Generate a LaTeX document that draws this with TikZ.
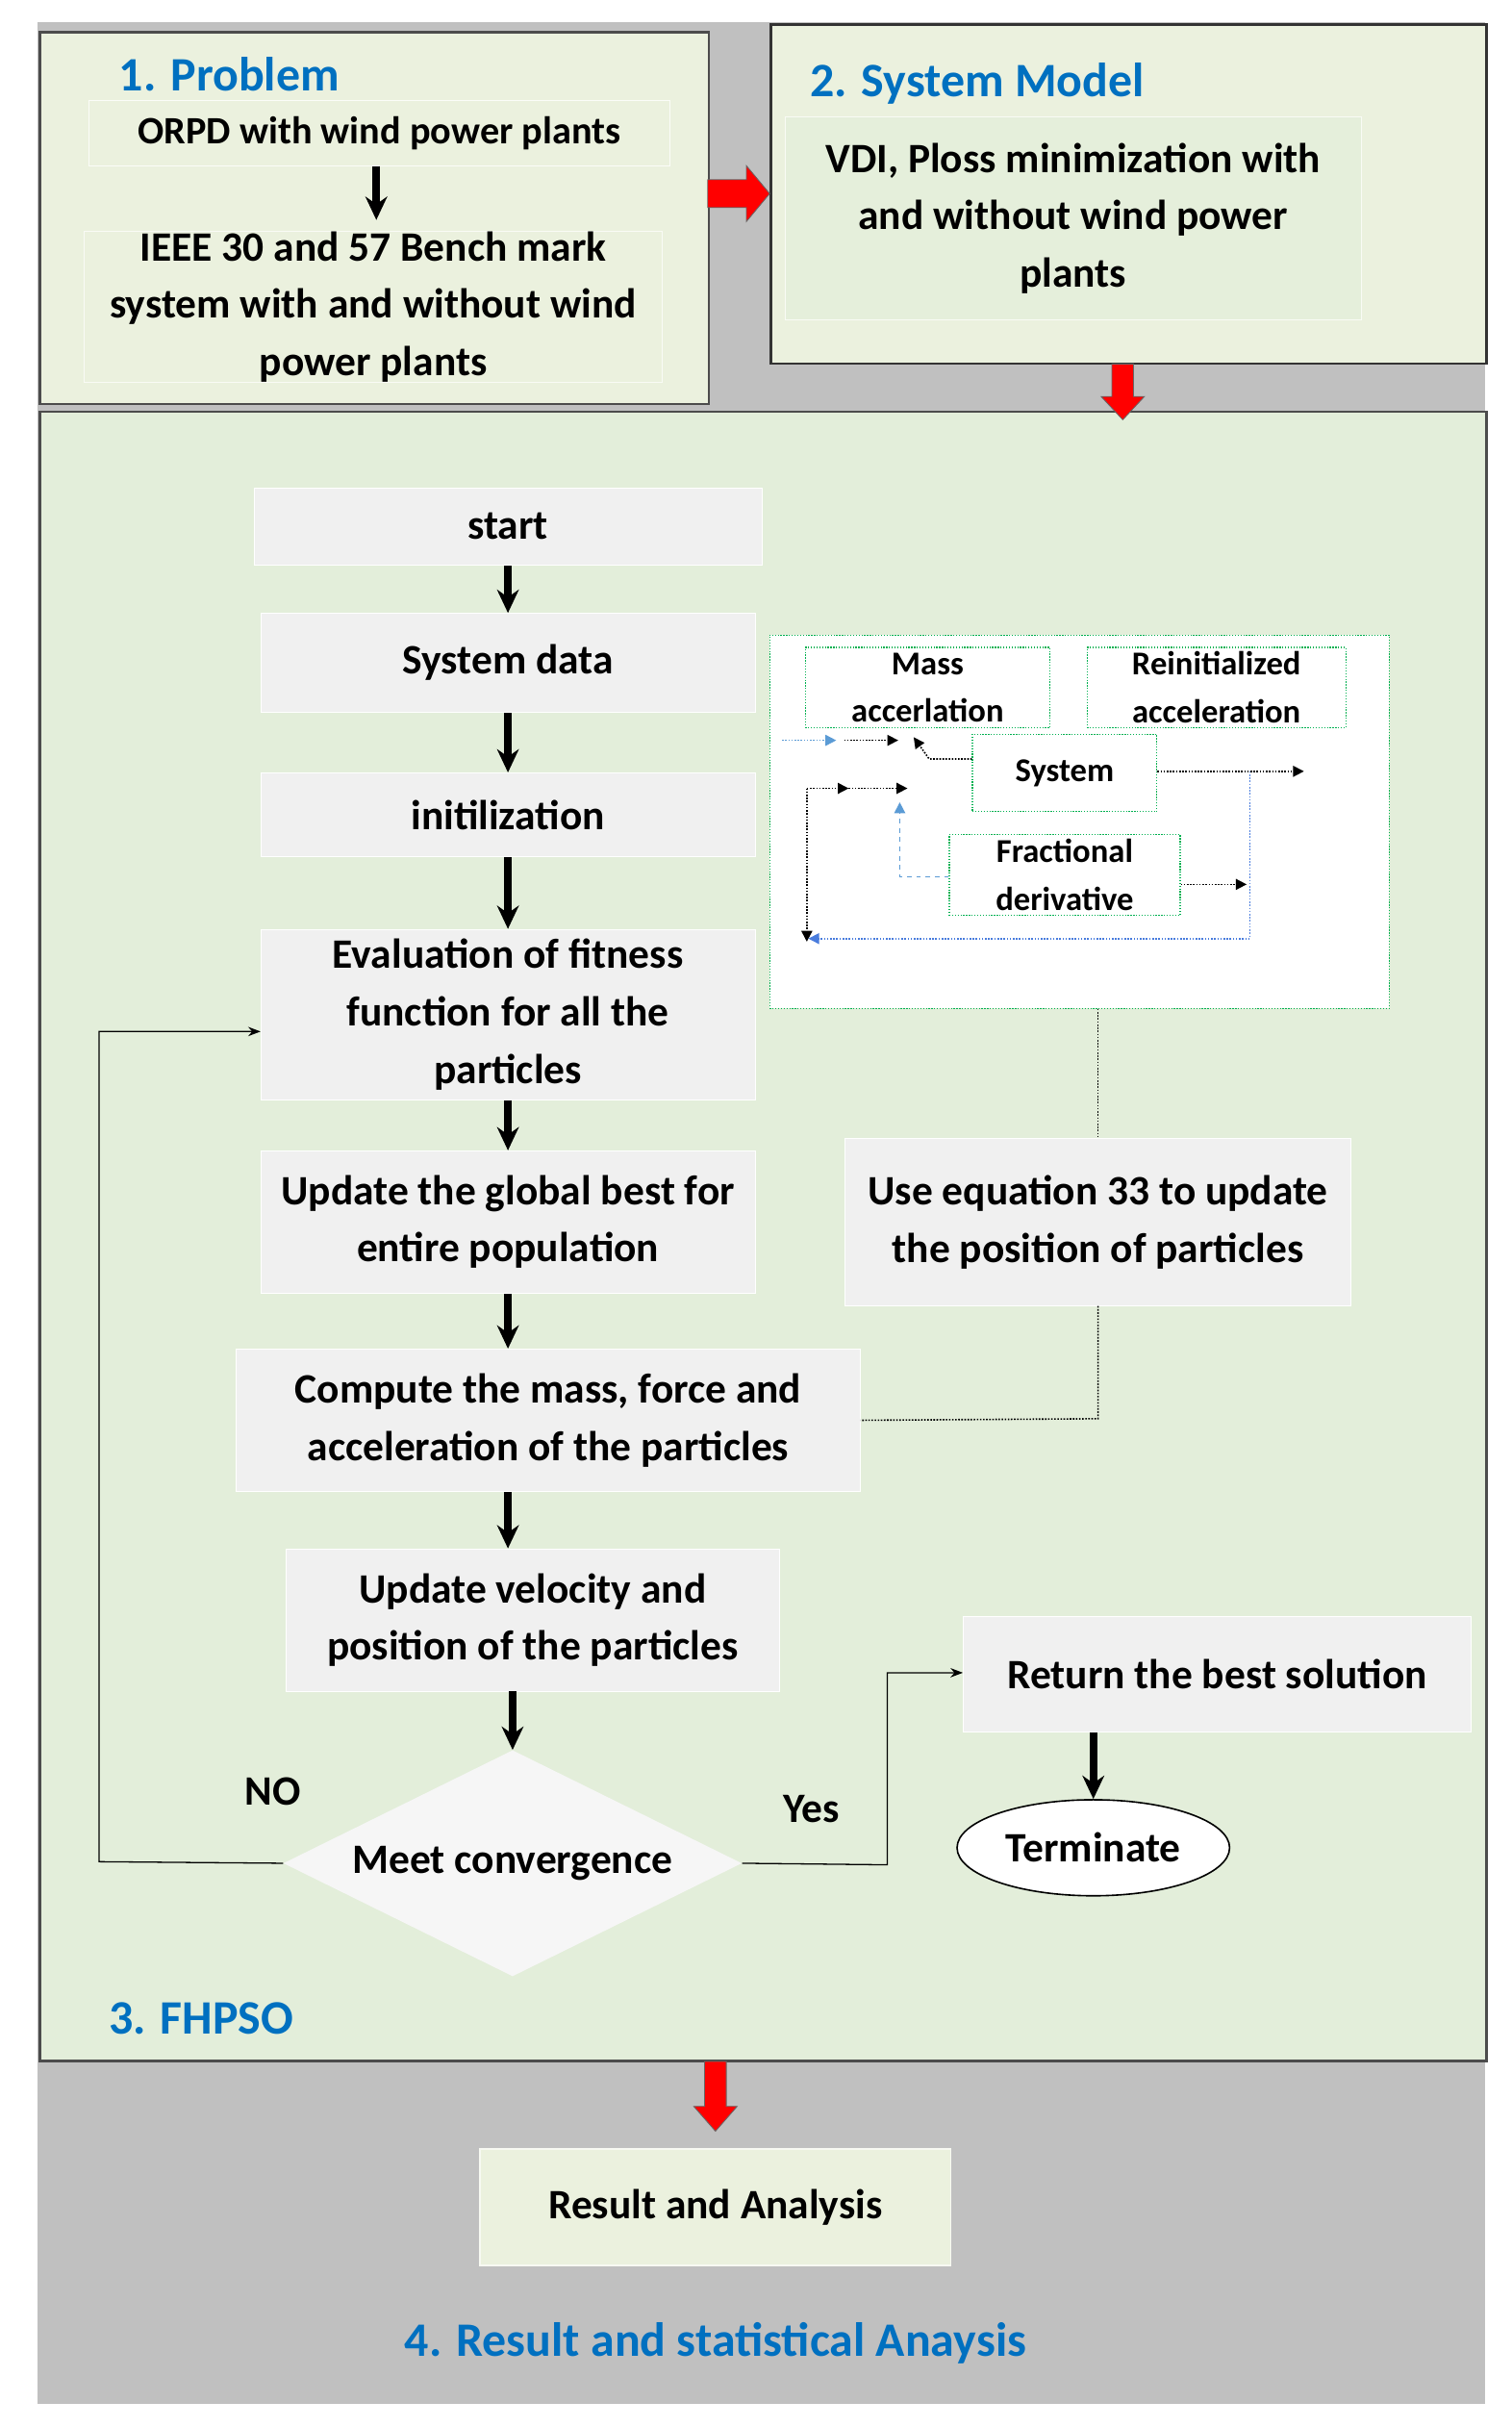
\documentclass[tikz,border=0pt]{standalone}
\usepackage{fontspec}
\setmainfont{Carlito}
\usetikzlibrary{arrows.meta,shapes.geometric}
\definecolor{ttl}{HTML}{0070C0}
\definecolor{frm}{HTML}{EBF1DE}
\definecolor{fh}{HTML}{E3EEDA}
\definecolor{bx}{HTML}{F0F0F0}
\definecolor{gbg}{HTML}{C0C0C0}
\definecolor{dg}{HTML}{00B050}
\definecolor{lb}{HTML}{5B9BD5}
\begin{document}
\begin{tikzpicture}[x=1pt,y=-1pt,
 txt/.style={font=\fontsize{27}{37}\selectfont\bfseries,align=center},
 ttlf/.style={font=\fontsize{31}{36}\selectfont\bfseries,text=ttl},
 fbox/.style={txt,fill=bx,draw=white,line width=0.5pt,inner sep=0pt},
 ibox/.style={font=\fontsize{21.5}{31}\selectfont\bfseries,align=center,draw=dg,densely dotted,line width=0.8pt,inner sep=0pt,fill=white},
 bar/.style={-{Stealth[length=15pt,width=14pt]},line width=5pt},
 thin/.style={-{Stealth[length=8pt,width=6pt]},line width=0.8pt},
 dot/.style={densely dotted,line width=1pt,-{Triangle[length=7pt,width=7pt]}},
 red/.style={fill=red,draw=black!60,line width=0.5pt}]
\useasboundingbox (0,0) rectangle (976,1567);
\fill[white] (0,0) rectangle (976,1567);
\fill[gbg] (24,14) rectangle (959,1552);
% frames
\node[draw=black!70,line width=1.5pt,fill=frm,minimum width=432pt,minimum height=240pt,anchor=north west,inner sep=0pt] (f1) at (25,20) {};
\node[draw=black!80,line width=1.5pt,fill=frm,minimum width=462pt,minimum height=219pt,anchor=north west,inner sep=0pt] (f2) at (497,15) {};
\node[draw=black!70,line width=1.5pt,fill=fh,minimum width=934pt,minimum height=1065pt,anchor=north west,inner sep=0pt] (f3) at (25,265) {};
\node[ttlf] (t1) at (148,48) {1. Problem};
\node[ttlf] (t2) at (631,54) {2. System Model};
\node[ttlf] (t3) at (130,1303) {3. FHPSO};
\node[ttlf] (t4) at (462,1513) {4. Result and statistical Anaysis};
\node[txt,font=\fontsize{25}{37}\selectfont\bfseries,draw=white!80!frm,minimum width=375pt,minimum height=42pt,inner sep=0pt] (p1) at (245,86) {ORPD with wind power plants};
\node[txt,draw=white!70!frm,minimum width=373pt,minimum height=95pt,inner sep=0pt] (p2) at (241,198) {IEEE 30 and 57 Bench mark\\system with and without wind\\power plants};
\draw[bar] (p1.south -| 243,0) -- (243,142) coordinate (pe);
\node[txt,fill=fh!70!frm,draw=white!70!frm,minimum width=372pt,minimum height=131pt,inner sep=0pt] (s1) at (693,141) {VDI, Ploss minimization with\\and without wind power\\plants};
% red arrows
\draw[red] (457,116) -- (482,116) -- (482,107) -- (497,125) -- (482,143) -- (482,134) -- (457,134) -- cycle;
\draw[red] (718,235) -- (732,235) -- (732,256) -- (739,256) -- (725,271) -- (711,256) -- (718,256) -- cycle;
\draw[red] (455,1331) -- (469,1331) -- (469,1360) -- (476,1360) -- (462,1376) -- (448,1360) -- (455,1360) -- cycle;
\node[txt,fill=frm,draw=white!60!frm,line width=1pt,minimum width=304pt,minimum height=75pt,inner sep=0pt] (res) at (462,1425) {Result and Analysis};
% flowchart
\node[fbox,minimum width=328pt,minimum height=50pt] (st) at (328,340) {start};
\node[fbox,minimum width=319pt,minimum height=64pt] (sd) at (328,428) {System data};
\node[fbox,minimum width=319pt,minimum height=54pt] (in) at (328,526) {initilization};
\node[fbox,minimum width=319pt,minimum height=110pt] (ev) at (328,655) {Evaluation of fitness\\function for all the\\particles};
\node[fbox,minimum width=319pt,minimum height=92pt] (ug) at (328,789) {Update the global best for\\entire population};
\node[fbox,minimum width=403pt,minimum height=92pt] (cm) at (354,917) {Compute the mass, force and\\acceleration of the particles};
\node[fbox,minimum width=319pt,minimum height=92pt] (uv) at (344,1046) {Update velocity and\\position of the particles};
\node[diamond,fill=bx!60!white,minimum width=296pt,minimum height=146pt,inner sep=0pt,aspect=2] (dm) at (331,1203) {};
\node[txt] at (331,1203) {Meet convergence};
\node[fbox,minimum width=328pt,minimum height=75pt] (rt) at (786,1081) {Return the best solution};
\node[txt,ellipse,draw=black,line width=1pt,fill=white,minimum width=176pt,minimum height=62pt,inner sep=0pt] (te) at (706,1193) {Terminate};
\node[fbox,minimum width=327pt,minimum height=108pt] (ue) at (709,789) {Use equation 33 to update\\the position of particles};
\draw[bar] (st.south) -- (in.north |- sd.north);
\draw[bar] (sd.south) -- (in.north);
\draw[bar] (in.south) -- (ev.north);
\draw[bar] (ev.south) -- (ug.north);
\draw[bar] (ug.south) -- (ug.south |- cm.north);
\draw[bar] (ug.south |- cm.south) -- (ug.south |- uv.north);
\draw[bar] (331,1092) -- (dm.north);
\draw[bar] (te.north |- rt.south) -- (te.north);
\coordinate (nl) at (64,1202); \coordinate (nt) at (64,666);
\draw[thin] (dm.west) -- (nl) -- (nt) -- (ev.west |- nt);
\coordinate (yr) at (573,1204); \coordinate (yt) at (573,1080);
\draw[thin] (dm.east) -- (yr) -- (yt) -- (rt.west |- yt);
\node[txt] at (176,1157) {NO};
\node[txt] at (524,1168) {Yes};
% inset
\node[draw=dg,densely dotted,line width=0.8pt,fill=white,minimum width=400pt,minimum height=241pt,inner sep=0pt] (ins) at (697,530.5) {};
\draw[densely dotted,line width=1pt,black] (ins.south -| ue.north) -- (ue.north);
\coordinate (cc) at (709,916);
\draw[densely dotted,line width=1pt,black] (ue.south) -- (cc) -- (cm.east);
\node[ibox,minimum width=158pt,minimum height=52pt] (ma) at (599,444) {Mass\\accerlation};
\node[ibox,minimum width=167pt,minimum height=52pt] (ra) at (785.5,444) {Reinitialized\\acceleration};
\node[ibox,minimum width=119pt,minimum height=50pt] (sy) at (687.5,499) {System};
\node[ibox,minimum width=149pt,minimum height=52pt] (fd) at (687.5,565) {Fractional\\derivative};
\coordinate (a1) at (505,478); \coordinate (a2) at (540,478);
\draw[dot,lb] (a1) -- (a2);
\coordinate (a3) at (545,478); \coordinate (a4) at (580,478);
\draw[dot] (a3) -- (a4);
\coordinate (a5) at (600,490); \coordinate (a6) at (590,476);
\draw[dot] (sy.west |- a5) -- (a5) -- (a6);
\coordinate (b1) at (521,509); \coordinate (b2) at (548,509); \coordinate (b3) at (586,509); \coordinate (b4) at (521,608);
\draw[dot] (b1) -- (b2); \draw[dot] (b2) -- (b3);
\draw[dot] (b1) -- (b4);
\coordinate (c1) at (581,566); \coordinate (c2) at (581,518);
\draw[dot,lb,dashed] (fd.west |- c1) -- (c1) -- (c2);
\coordinate (d1) at (842,498);
\draw[dot] (sy.east |- d1) -- (d1);
\coordinate (d2) at (805,571);
\draw[dot] (fd.east |- d2) -- (d2);
\coordinate (e1) at (807,498); \coordinate (e2) at (807,606); \coordinate (e3) at (522,606);
\draw[dot,lb!80!blue] (e1) -- (e2) -- (e3);
\end{tikzpicture}
\end{document}
